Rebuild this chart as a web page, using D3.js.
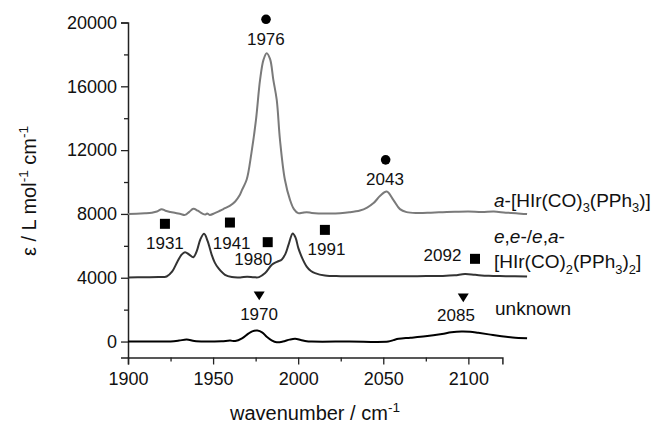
<!DOCTYPE html>
<html><head><meta charset="utf-8">
<script src="https://cdn.jsdelivr.net/npm/d3@7"></script>
<style>
html,body{margin:0;padding:0;background:#fff;}
svg{display:block;font-family:"Liberation Sans",Arial,sans-serif;}
</style></head>
<body><svg id="c" width="654" height="423"></svg>
<script>
// ---- data ----
const xTicks = [1900, 1950, 2000, 2050, 2100];
const yTicks = [0, 4000, 8000, 12000, 16000, 20000];

const grayWn  = [1900,1905,1910,1914,1917,1919.8,1922,1925,1928,1931,1933.5,1936,1938.4,1941,1943.5,1945.5,1946.5,1948,1951,1954,1957,1960,1963,1965.5,1967,1969.7,1972.5,1975.2,1977.6,1979.6,1981.5,1983.5,1985.4,1987.4,1989.3,1992.2,1995.2,1997.5,2000,2002.5,2005,2008,2012,2018,2024.6,2030,2036.3,2040.5,2044.3,2048.2,2052,2055.9,2059.8,2063.7,2070,2078,2085,2092,2100,2108,2115,2122,2128,2134.5];
const grayEps = [8000,8010,8040,8080,8150,8300,8200,8120,8060,7990,7940,8130,8320,8200,8030,7960,8030,7940,8050,8200,8360,8520,8780,9150,9510,10140,11800,13900,16400,17660,18080,17700,16400,15150,12650,10140,8885,8300,8050,8080,8110,8060,8030,8030,8050,8100,8215,8400,8680,9135,9400,8885,8300,8115,8060,8080,8110,8130,8150,8120,8150,8080,8050,7990];

const darkWn  = [1900,1910,1918,1922.7,1926,1929,1931.5,1933.5,1936,1938.4,1940.5,1942.5,1944.7,1946.8,1949.2,1951,1953.1,1957,1961,1966,1970,1974,1977,1980.6,1984.5,1987.5,1990.4,1992.5,1994.3,1996.8,1998.5,2000.1,2002.5,2005,2007.5,2009.9,2015.7,2025,2040,2055,2070,2085,2092,2098,2104,2112,2122,2134.5];
const darkEps = [4020,4030,4040,4080,4400,5000,5450,5605,5450,5290,5700,6400,6750,6300,5435,4950,4600,4180,4040,4020,4060,4030,4040,4290,4810,5000,5150,5500,6060,6780,6500,5855,5200,4700,4420,4290,4140,4100,4090,4090,4100,4110,4150,4230,4180,4120,4100,4075];

const blackWn  = [1900,1915,1925,1930,1934.5,1939,1945,1955,1960,1963,1967,1970.5,1973,1976,1979,1981.5,1984.4,1987.4,1991,1995,1998.2,2001.5,2005,2008,2030,2053,2056,2059,2066,2074.7,2084.5,2090,2096,2101,2105.8,2112,2119.5,2126,2134.5];
const blackEps = [0,0,10,60,125,30,0,20,60,30,200,480,640,690,560,300,80,-40,0,120,170,100,20,0,0,0,90,170,240,335,480,580,627,610,545,450,335,260,210];

// markers (peak annotations)
const markerWn     = [1981.1, 2051.4, 1921.7, 1959.9, 1982.1, 2015.7, 2103.9, 1977.1, 2097.0];
const markerEps    = [20200, 11390, 7380, 7460, 6230, 7000, 5185, 2865, 2740];
const markerShape  = ["circle","circle","square","square","square","square","square","triangle","triangle"];
const markerLabels = ["1976","2043","1931","1941","1980","1991","2092","1970","2085"];
const labelWn      = [1981.0, 2051.0, 1921.7, 1960.9, 1973.6, 2016.6, 2084.8, 1977.0, 2092.7];
const labelEps     = [18600, 9830, 5810, 5810, 4810, 5440, 5020, 1360, 1300];

// ---- chart ----
const svg = d3.select("#c");
const x = d3.scaleLinear().domain([1900, 2120]).range([128, 502.4]);
const y = d3.scaleLinear().domain([-1000, 20000]).range([357.5, 22.5]);
const axisColor = "#222";

// y axis
const yAx = svg.append("g").attr("transform", "translate(128,0)");
yAx.call(d3.axisLeft(y).tickValues(d3.range(2000, 20001, 4000)).tickSize(4).tickFormat(""));
yAx.call(g => g.select(".domain").remove());
const yAx2 = svg.append("g").attr("transform", "translate(128,0)");
yAx2.call(d3.axisLeft(y).tickValues(yTicks).tickSize(7).tickPadding(4).tickFormat(d3.format("d")));
[yAx, yAx2].forEach(g => {
  g.selectAll("line").attr("stroke", axisColor).attr("stroke-width", 1.3);
  g.selectAll(".domain").attr("stroke", axisColor).attr("stroke-width", 1.5);
  g.selectAll("text").attr("font-size", 18).attr("fill", "#111").attr("font-family", "Liberation Sans, Arial, sans-serif");
});

// x axis
const xAx = svg.append("g").attr("transform", "translate(0,357.5)");
xAx.call(d3.axisBottom(x).tickValues(d3.range(1925, 2120, 50)).tickSize(4).tickFormat(""));
xAx.call(g => g.select(".domain").remove());
const xAx2 = svg.append("g").attr("transform", "translate(0,357.5)");
xAx2.call(d3.axisBottom(x).tickValues(xTicks).tickSize(7).tickPadding(8).tickFormat(d3.format("d")));
[xAx, xAx2].forEach(g => {
  g.selectAll("line").attr("stroke", axisColor).attr("stroke-width", 1.3);
  g.selectAll(".domain").attr("stroke", axisColor).attr("stroke-width", 1.5);
  g.selectAll("text").attr("font-size", 18).attr("fill", "#111").attr("font-family", "Liberation Sans, Arial, sans-serif");
});

// lines
const line = d3.line().x(d => x(d[0])).y(d => y(d[1])).curve(d3.curveCatmullRom.alpha(0.5));
const series = [
  {wn: grayWn, eps: grayEps, color: "#7a7a7a"},
  {wn: darkWn, eps: darkEps, color: "#333333"},
  {wn: blackWn, eps: blackEps, color: "#000000"}
];
series.forEach(s => {
  svg.append("path").datum(d3.zip(s.wn, s.eps)).attr("d", line)
    .attr("fill", "none").attr("stroke", s.color).attr("stroke-width", 2).attr("stroke-linejoin", "round");
});

// markers
const sym = {
  circle: d3.symbol().type(d3.symbolCircle).size(Math.PI * 4.8 * 4.8),
  square: d3.symbol().type(d3.symbolSquare).size(100)
};
markerWn.forEach((wn, i) => {
  const cx = x(wn), cy = y(markerEps[i]);
  if (markerShape[i] === "triangle") {
    svg.append("path").attr("d", `M${cx-5.5},${cy-4.3}L${cx+5.5},${cy-4.3}L${cx},${cy+4.5}Z`).attr("fill", "#000");
  } else {
    svg.append("path").attr("d", sym[markerShape[i]]()).attr("transform", `translate(${cx},${cy})`).attr("fill", "#000");
  }
  svg.append("text").attr("x", x(labelWn[i])).attr("y", y(labelEps[i]))
    .attr("text-anchor", "middle").attr("font-size", 17).attr("fill", "#111").text(markerLabels[i]);
});

// rich text helper
function rich(parent, px, py, parts, size, anchor) {
  const t = parent.append("text").attr("x", px).attr("y", py).attr("font-size", size).attr("fill", "#111");
  if (anchor) t.attr("text-anchor", anchor);
  let shift = 0;
  parts.forEach(p => {
    const ts = t.append("tspan").text(p.t);
    let target = 0;
    if (p.sub) { target = size * 0.3; ts.attr("font-size", size * 0.68); }
    if (p.sup) { target = -size * 0.42; ts.attr("font-size", size * 0.68); }
    if (p.i) ts.attr("font-style", "italic");
    if (target !== shift) { ts.attr("dy", target - shift); shift = target; }
  });
  return t;
}

// legend labels
rich(svg, 494, 206.5, [{t:"a", i:true},{t:"-[HIr(CO)"},{t:"3", sub:true},{t:"(PPh"},{t:"3", sub:true},{t:")]"}], 19);
rich(svg, 494, 243, [{t:"e", i:true},{t:","},{t:"e", i:true},{t:"-/"},{t:"e", i:true},{t:","},{t:"a", i:true},{t:"-"}], 19);
rich(svg, 494, 268, [{t:"[HIr(CO)"},{t:"2", sub:true},{t:"(PPh"},{t:"3", sub:true},{t:")"},{t:"2", sub:true},{t:"]"}], 19);
rich(svg, 495, 315, [{t:"unknown"}], 19);

// axis titles
rich(svg, 315, 420, [{t:"wavenumber / cm"},{t:"-1", sup:true}], 20, "middle");
const yt = svg.append("g").attr("transform", "translate(36,191) rotate(-90)");
rich(yt, 0, 0, [{t:"ε / L mol"},{t:"-1", sup:true},{t:" cm"},{t:"-1", sup:true}], 20, "middle");
</script></body></html>
